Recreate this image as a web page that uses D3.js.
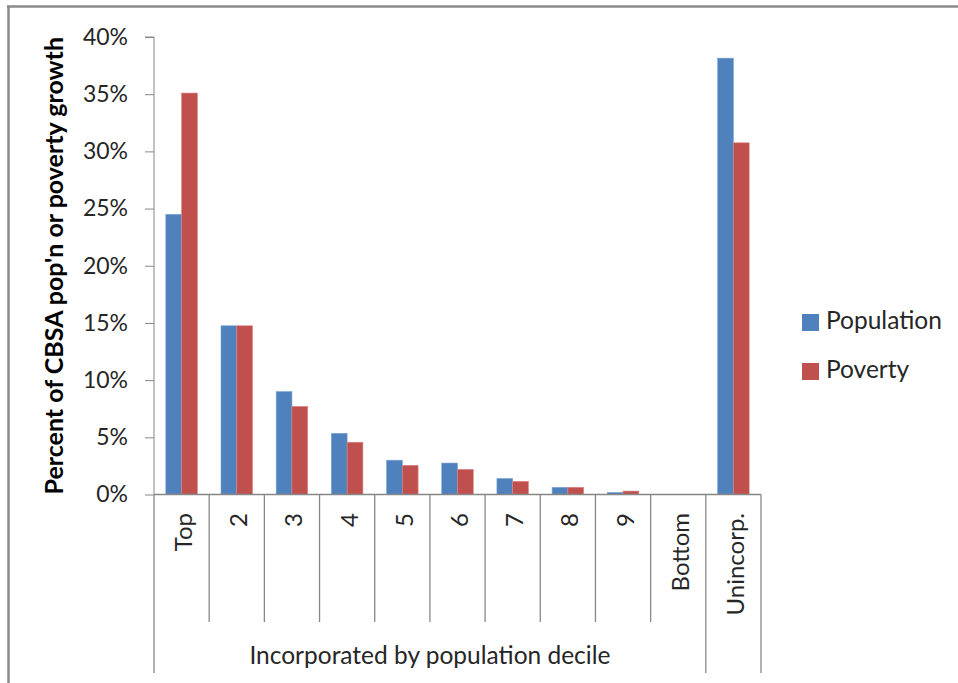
<!DOCTYPE html>
<html>
<head>
<meta charset="utf-8">
<script src="https://cdn.jsdelivr.net/npm/d3@7"></script>
<style>
  html, body { margin: 0; padding: 0; background: #fff; }
  svg { display: block; font-family: Lato, "Open Sans", sans-serif; }
</style>
</head>
<body>
<svg id="chart" width="958" height="683"></svg>
<script>
// Share of CBSA population / poverty growth by place size group
const categories = ["Top", "2", "3", "4", "5", "6", "7", "8", "9", "Bottom", "Unincorp."];
const population = [24.5, 14.75, 9.0, 5.35, 3.0, 2.75, 1.4, 0.63, 0.18, 0, 38.15];
const poverty    = [35.1, 14.75, 7.7, 4.57, 2.55, 2.2, 1.15, 0.63, 0.3, 0, 30.75];
const seriesNames = ["Population", "Poverty"];
const seriesColors = ["#4F81BD", "#C0504D"];
const yTicks = [0, 5, 10, 15, 20, 25, 30, 35, 40];
const groupLabel = "Incorporated by population decile";
const groupSize = 10; // first ten categories are incorporated places

const svg = d3.select("#chart");
const axisColor = "#878787";
const textColor = "#262626";

// outer frame (left and top edges)
svg.append("line").attr("x1", 8.5).attr("x2", 8.5).attr("y1", 6).attr("y2", 683)
  .attr("stroke", "#8a8a8a").attr("stroke-width", 2.5);
svg.append("line").attr("x1", 7).attr("x2", 958).attr("y1", 6.5).attr("y2", 6.5)
  .attr("stroke", "#8a8a8a").attr("stroke-width", 2.5);

const plot = { left: 154, right: 761, top: 37, bottom: 494.5 };

const x = d3.scaleBand().domain(categories).range([plot.left, plot.right]).paddingInner(0).paddingOuter(0);
const xs = d3.scaleBand().domain(seriesNames).range([0, x.bandwidth()]).paddingInner(0).paddingOuter(0.75);
const y = d3.scaleLinear().domain([0, 40]).range([plot.bottom, plot.top]);

// bars
const rows = categories.map((c, i) => ({ cat: c, vals: [population[i], poverty[i]] }));
const g = svg.append("g");
rows.forEach(r => {
  r.vals.forEach((v, j) => {
    if (v <= 0) return;
    g.append("rect")
      .attr("x", x(r.cat) + xs(seriesNames[j]))
      .attr("width", xs.bandwidth())
      .attr("y", y(v))
      .attr("height", y(0) - y(v))
      .attr("fill", seriesColors[j])
      .attr("stroke", j === 0 ? "#7ea3d3" : "#d98583")
      .attr("stroke-width", 0.6);
  });
});

// y axis
const yAxis = d3.axisLeft(y).tickValues(yTicks).tickFormat(d => d + "%").tickSize(9).tickPadding(17);
const ya = svg.append("g").attr("transform", `translate(${plot.left},0)`).call(yAxis);
ya.select(".domain").attr("stroke", axisColor).attr("d", `M-9,${plot.top}H0V${plot.bottom}`);
ya.selectAll(".tick line").attr("stroke", axisColor);
ya.selectAll(".tick text").attr("fill", textColor).style("font-size", "23px").style("font-family", "Lato, sans-serif");

// y title
svg.append("text")
  .attr("transform", `translate(63,${(plot.top + plot.bottom) / 2}) rotate(-90)`)
  .attr("text-anchor", "middle")
  .attr("fill", "#000")
  .style("font-size", "25px").style("font-weight", "bold")
  .text("Percent of CBSA pop'n or poverty growth");

// category axis: baseline, separators and rotated labels
const catAxis = svg.append("g");
catAxis.append("line").attr("x1", plot.left).attr("x2", plot.right)
  .attr("y1", plot.bottom).attr("y2", plot.bottom).attr("stroke", axisColor).attr("stroke-width", 1.3);
const bounds = categories.map(c => x(c)).concat([plot.right]);
bounds.forEach((bx, i) => {
  const long = (i === 0 || i === groupSize || i === categories.length);
  catAxis.append("line")
    .attr("x1", bx).attr("x2", bx)
    .attr("y1", plot.bottom).attr("y2", long ? 673 : 622)
    .attr("stroke", axisColor).attr("stroke-width", 1.3);
});
categories.forEach(c => {
  const cx = x(c) + x.bandwidth() / 2;
  catAxis.append("text")
    .attr("transform", `translate(${cx + 1},513) rotate(-90)`)
    .attr("text-anchor", "end")
    .attr("dominant-baseline", "central")
    .attr("fill", textColor)
    .style("font-size", "24px")
    .text(c);
});
catAxis.append("text")
  .attr("x", (plot.left + x(categories[groupSize])) / 2)
  .attr("y", 664)
  .attr("text-anchor", "middle")
  .attr("fill", textColor)
  .style("font-size", "24.5px")
  .text(groupLabel);

// legend
const legend = svg.append("g");
seriesNames.forEach((s, i) => {
  const ly = 314 + i * 49;
  legend.append("rect").attr("x", 802).attr("y", ly).attr("width", 17).attr("height", 17)
    .attr("fill", seriesColors[i]);
  legend.append("text").attr("x", 826).attr("y", ly + 15)
    .attr("fill", textColor).style("font-size", "24.5px").text(s);
});
</script>
</body>
</html>
